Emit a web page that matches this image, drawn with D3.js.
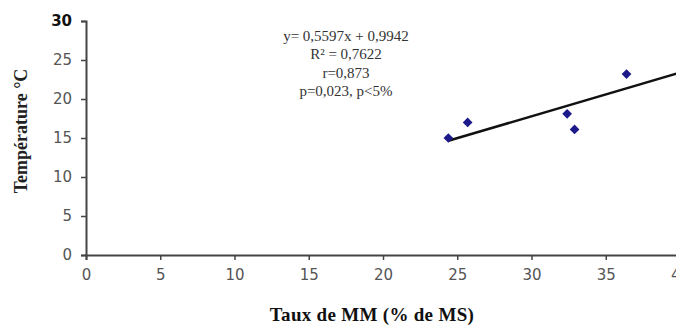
<!DOCTYPE html>
<html>
<head>
<meta charset="utf-8">
<script src="https://cdn.jsdelivr.net/npm/d3@7"></script>
<style>
  body { margin: 0; background: #fff; }
  svg { display: block; }
</style>
</head>
<body>
<svg id="chart" width="676" height="326"></svg>
<script>
// values
const mmRate = [24.4, 25.7, 32.4, 32.9, 36.4];
const temperature = [15.0, 17.0, 18.1, 16.1, 23.2];
const slope = 0.5597, intercept = 0.9942;
const fitRange = [24.4, 40];
const xTicks = [0, 5, 10, 15, 20, 25, 30, 35, 40];
const yTicks = [0, 5, 10, 15, 20, 25, 30];
const statLines = ["y= 0,5597x + 0,9942", "R² = 0,7622", "r=0,873", "p=0,023, p<5%"];

const svg = d3.select("#chart");

const x = d3.scaleLinear().domain([0, 40]).range([86, 680]);
const y = d3.scaleLinear().domain([0, 30]).range([255, 21]);

const axisColor = "#444";
const tickFont = "'DejaVu Sans', sans-serif";

// x axis
const xAxis = svg.append("g")
  .attr("transform", `translate(0,${y(0)})`)
  .call(d3.axisBottom(x).tickValues(xTicks).tickSize(5).tickPadding(9));
xAxis.select(".domain").attr("stroke", axisColor).attr("stroke-width", 2);
xAxis.selectAll(".tick line").attr("stroke", axisColor).attr("stroke-width", 1.5);
xAxis.selectAll(".tick text")
  .attr("fill", "#555")
  .style("font-family", tickFont)
  .style("font-size", "15px");

// y axis
const yAxis = svg.append("g")
  .attr("transform", `translate(${x(0)},0)`)
  .call(d3.axisLeft(y).tickValues(yTicks).tickSize(5).tickPadding(9));
yAxis.select(".domain").attr("stroke", axisColor).attr("stroke-width", 2);
yAxis.selectAll(".tick line").attr("stroke", axisColor).attr("stroke-width", 1.5);
yAxis.selectAll(".tick text")
  .attr("fill", d => d === 30 ? "#111" : "#555")
  .style("font-weight", d => d === 30 ? "bold" : "normal")
  .style("font-family", tickFont)
  .style("font-size", "15px");

// regression line
svg.append("line")
  .attr("x1", x(fitRange[0]))
  .attr("y1", y(slope * fitRange[0] + intercept))
  .attr("x2", x(fitRange[1]))
  .attr("y2", y(slope * fitRange[1] + intercept))
  .attr("stroke", "#111")
  .attr("stroke-width", 2.5);

// points
svg.selectAll("path.pt")
  .data(mmRate.map((v, i) => [v, temperature[i]]))
  .enter()
  .append("path")
  .attr("class", "pt")
  .attr("d", d3.symbol().type(d3.symbolDiamond2).size(60))
  .attr("transform", d => `translate(${x(d[0])},${y(d[1])})`)
  .attr("fill", "#1c1a8a");

// statistics text
svg.append("g")
  .selectAll("text")
  .data(statLines)
  .enter()
  .append("text")
  .attr("x", 346)
  .attr("y", (d, i) => 41 + i * 18.3)
  .attr("text-anchor", "middle")
  .attr("fill", "#333")
  .style("font-family", "'Liberation Serif', serif")
  .style("font-size", "15px")
  .text(d => d);

// axis titles
svg.append("text")
  .attr("x", 372)
  .attr("y", 321)
  .attr("text-anchor", "middle")
  .attr("fill", "#111")
  .style("font-family", "'Liberation Serif', serif")
  .style("font-weight", "bold")
  .style("font-size", "19px")
  .style("letter-spacing", "0.3px")
  .text("Taux de MM (% de MS)");

svg.append("text")
  .attr("transform", "rotate(-90)")
  .attr("x", -131)
  .attr("y", 27)
  .attr("text-anchor", "middle")
  .attr("fill", "#222")
  .style("font-family", "'Liberation Serif', serif")
  .style("font-weight", "bold")
  .style("font-size", "18px")
  .text("Température °C");
</script>
</body>
</html>
